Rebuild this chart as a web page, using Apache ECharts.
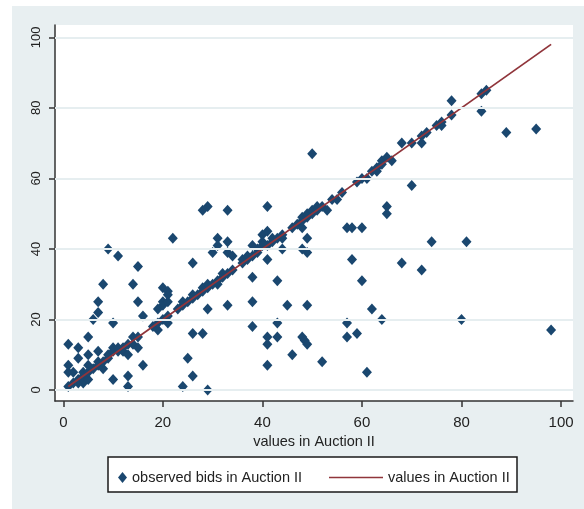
<!DOCTYPE html>
<html><head><meta charset="utf-8">
<script src="https://cdn.jsdelivr.net/npm/echarts@6/dist/echarts.min.js"></script>
<style>html,body{margin:0;padding:0;background:#fff}#c{width:584px;height:509px}</style>
</head><body><div id="c"></div>
<script>
const xTicks = [0, 20, 40, 60, 80, 100];
const yTicks = [0, 20, 40, 60, 80, 100];
const seriesNames = ['observed bids in Auction II', 'values in Auction II'];
const xTitle = 'values in Auction II';

// observed bids: [value, bid]
const bidsLow = [[1,1],[1,5],[1,7],[1,13],[2,5],[2,2],[3,12],[3,9],[3,2],[3,3],[4,5],[4,2],[4,3],[4,4],[5,15],[5,10],[5,7],[5,3],[5,5],[6,20],[6,6],[7,25],[7,22],[7,11],[7,8],[7,7],[8,30],[8,6],[8,8],[9,40],[9,9],[9,10],[10,19],[10,12],[10,3],[10,11],[11,38],[11,11],[11,12],[12,11],[12,12],[13,1],[13,4],[13,10],[13,13],[14,30],[14,13],[14,15],[15,35],[15,25],[15,12],[15,15],[16,21],[16,7],[18,18],[19,17],[19,23],[19,19],[20,29],[20,24],[20,20],[20,25],[21,28],[21,25],[21,19],[21,21],[21,27],[22,43],[23,23],[24,1],[24,24],[24,25],[25,9],[25,25],[26,36],[26,16],[26,4],[26,26],[26,27],[27,27],[28,51],[28,16],[28,28],[28,29],[29,52],[29,23],[29,0],[29,29],[29,30],[30,39],[30,30],[31,43],[31,41],[31,31],[31,30],[32,32],[32,33],[33,51],[33,42],[33,24],[33,39],[33,33],[34,38],[34,34]];
const bidsMid = [[36,36],[36,37],[37,37],[37,38],[38,38],[38,41],[38,32],[38,25],[38,18],[39,39],[39,40],[40,42],[40,44],[40,41],[41,45],[41,52],[41,37],[41,15],[41,13],[41,7],[41,41],[42,42],[42,43],[43,43],[43,31],[43,19],[43,15],[44,40],[44,43],[44,44],[45,24],[46,46],[46,10],[47,47],[48,40],[48,46],[48,48],[48,49],[48,15],[48.5,14],[49,13],[49,39],[49,43],[49,24],[49,49],[49,50],[50,67],[50,50],[50,51],[51,52],[51,51],[52,8],[52,52],[53,51],[54,54],[55,54],[56,56],[57,46],[57,19],[57,15],[58,46],[58,37],[59,16],[59,59],[60,46],[60,31],[60,60],[61,5],[61,60],[62,23],[62,62],[63,62],[63,63],[64,20],[64,64],[64,65],[65,52],[65,50],[65,66],[66,65]];
const bidsHigh = [[68,70],[68,36],[70,70],[70,58],[72,70],[72,72],[72,34],[73,73],[74,42],[75,75],[76,76],[76,75],[78,82],[78,78],[80,20],[81,42],[84,84],[84,79],[85,85],[89,73],[95,74],[98,17]];

const valueLineX = [1, 98];
const valueLineY = [1, 98];

const FONT = '"Liberation Sans",Arial,sans-serif';
const chart = echarts.init(document.getElementById('c'), null, {renderer: 'canvas'});
chart.setOption({
  backgroundColor: '#ffffff',
  animation: false,
  graphic: [
    {type: 'rect', z: -10, silent: true, shape: {x: 12, y: 6, width: 572, height: 503}, style: {fill: '#e8eff1'}},
    {type: 'rect', z: 1, silent: true, shape: {x: 108, y: 457, width: 409, height: 35}, style: {fill: '#ffffff', stroke: '#1a1a1a', lineWidth: 1.5}}
  ],
  grid: {left: 55, top: 25, right: 11, bottom: 108, show: true, backgroundColor: '#ffffff', borderWidth: 0},
  xAxis: {
    type: 'value', min: -1.67, max: 102.4,
    axisLine: {onZero: false, lineStyle: {color: '#333', width: 1.5}},
    axisTick: {show: true, customValues: xTicks, length: 6, lineStyle: {color: '#333', width: 1.5}},
    axisLabel: {customValues: xTicks, margin: 14, fontSize: 15, color: '#222', fontFamily: FONT},
    splitLine: {show: false},
    name: xTitle, nameLocation: 'middle', nameGap: 31,
    nameTextStyle: {fontSize: 14.5, color: '#222', fontFamily: FONT}
  },
  yAxis: {
    type: 'value', min: -3.12, max: 103.49,
    axisLine: {show: true, onZero: false, lineStyle: {color: '#333', width: 1.5}},
    axisTick: {show: true, customValues: yTicks, length: 6, lineStyle: {color: '#333', width: 1.5}},
    axisLabel: {customValues: yTicks, rotate: 90, margin: 12, fontSize: 13, color: '#222', fontFamily: FONT},
    splitLine: {show: false}
  },
  legend: [
    {data: [{name: seriesNames[0], icon: 'diamond'}], left: 113, top: 465, itemWidth: 9, itemHeight: 11, z: 5,
     textStyle: {fontSize: 14.5, color: '#222', fontFamily: FONT}},
    {data: [{name: seriesNames[1], icon: 'rect'}], left: 324, top: 465, itemWidth: 54, itemHeight: 1.5, z: 5,
     textStyle: {fontSize: 14.5, color: '#222', fontFamily: FONT}}
  ],
  series: [
    {type: 'line', name: 'grid', data: [], z: 1, silent: true,
     markLine: {silent: true, symbol: ['none', 'none'], label: {show: false},
       lineStyle: {color: '#e6eef0', width: 2, type: 'solid'},
       data: yTicks.map(v => ({yAxis: v}))}},
    {type: 'scatter', name: seriesNames[0], symbol: 'diamond', symbolSize: [10, 11], z: 3,
     itemStyle: {color: '#1a476f', opacity: 1},
     data: bidsLow.concat(bidsMid, bidsHigh)},
    {type: 'line', name: seriesNames[1], symbol: 'none', z: 4,
     lineStyle: {color: '#90353b', width: 1.8},
     itemStyle: {color: '#90353b'},
     data: valueLineX.map((x, i) => [x, valueLineY[i]])}
  ]
});
</script></body></html>
